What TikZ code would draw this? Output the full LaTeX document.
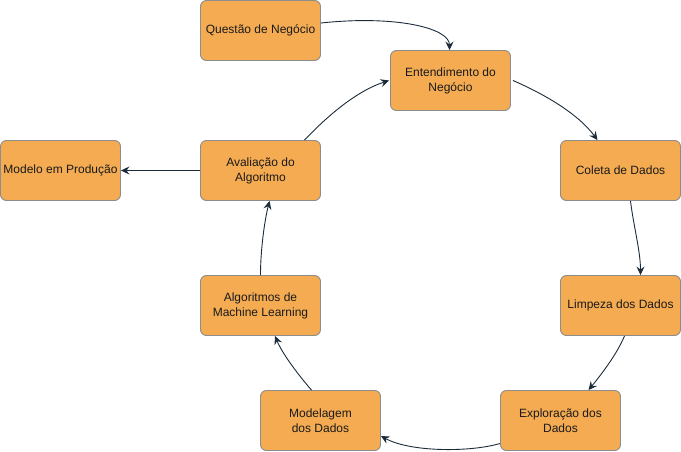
\documentclass[tikz,border=0pt]{standalone}
\usepackage{fontspec}
\setmainfont{Liberation Sans}
\usetikzlibrary{arrows.meta}
\definecolor{boxfill}{HTML}{F4AB51}
\definecolor{boxline}{HTML}{8C8C8C}
\definecolor{arr}{HTML}{1B2B3A}
\definecolor{txt}{HTML}{1A1A1A}
\tikzset{
  stepbox/.style={draw=boxline, fill=boxfill, line width=0.9pt, rounded corners=6pt,
    minimum width=120pt, minimum height=60pt, align=center, text=txt, inner sep=1pt,
    font=\fontsize{12pt}{15pt}\selectfont},
  conn/.style={draw=arr, line width=0.9pt, -{Stealth[length=8.5pt,width=8pt,inset=3pt]}}
}
\begin{document}
\begin{tikzpicture}[x=1pt,y=-1pt]
\useasboundingbox (0,0) rectangle (681,452);
\node[stepbox] (q)  at (260.5,30.5)  {Questão de Negócio};
\node[stepbox] (e)  at (450.5,80.5)  {Entendimento do\\Negócio};
\node[stepbox] (c)  at (620.5,170.5) {Coleta de Dados};
\node[stepbox] (l)  at (620.5,305.5) {Limpeza dos Dados};
\node[stepbox] (x)  at (560.5,420.5) {Exploração dos\\Dados};
\node[stepbox] (md) at (320.5,420.5) {Modelagem\\dos Dados};
\node[stepbox] (al) at (260.5,305.5) {Algoritmos de\\Machine Learning};
\node[stepbox] (av) at (260.5,170.5) {Avaliação do\\Algoritmo};
\node[stepbox] (mp) at (60.5,170.5)  {Modelo em Produção};

\draw[conn] ([yshift=7.5pt]q.east) .. controls +(75,-8) and +(0,-22) .. ([xshift=-1pt]e.north);
\draw[conn] ([xshift=2pt]e.east) .. controls +(30,13) and +(-20,-27) .. ([xshift=-23pt]c.north);
\draw[conn] ([xshift=10pt]c.south) .. controls +(3,25) and +(0,-24) .. ([xshift=20pt]l.north);
\draw[conn] ([xshift=4pt]l.south) .. controls +(-7,17) and +(14,-17) .. ([xshift=28pt]x.north);
\draw[conn] ([yshift=-23pt]x.west) .. controls +(-31,9) and +(29,16) .. ([yshift=-15.5pt]md.east);
\draw[conn] ([xshift=-9pt]md.north) .. controls +(-14,-16) and +(7,17) .. ([xshift=14.5pt]al.south);
\draw[conn] (al.north) .. controls +(0,-25) and +(-5,20) .. ([xshift=9pt]av.south);
\draw[conn] ([xshift=44pt]av.north) .. controls +(21,-22) and +(-34,11) .. ([xshift=-1pt]e.west);
\draw[conn] (av.west) -- (mp.east);
\end{tikzpicture}
\end{document}
